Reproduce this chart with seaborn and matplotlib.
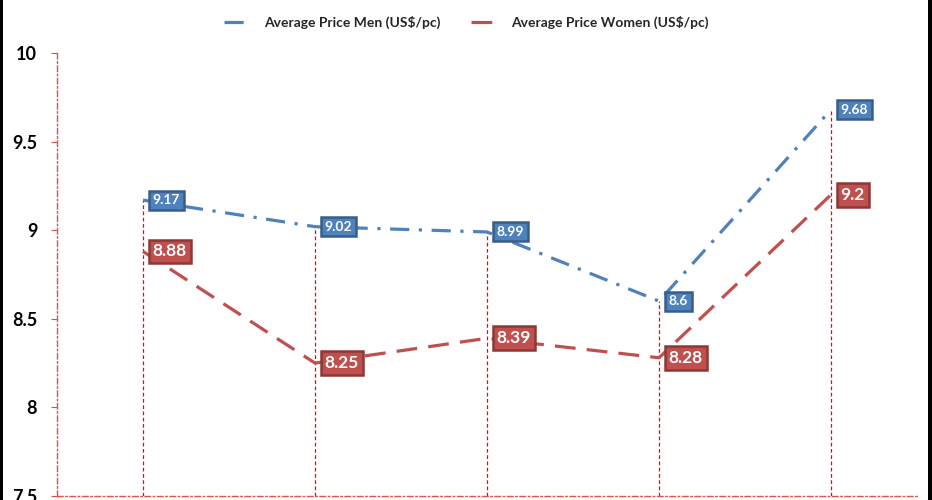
import numpy as np
import pandas as pd
import matplotlib
matplotlib.use("Agg")
import matplotlib.pyplot as plt
import seaborn as sns
from matplotlib.lines import Line2D
from matplotlib.patches import Rectangle

# data
positions = [0, 1, 2, 3, 4]
men_price = [9.17, 9.02, 8.99, 8.6, 9.68]
women_price = [8.88, 8.25, 8.39, 8.28, 9.2]
men_label = "Average Price Men (US$/pc)"
women_label = "Average Price Women (US$/pc)"
y_ticks = [7.5, 8, 8.5, 9, 9.5, 10]
y_tick_labels = ["7.5", "8", "8.5", "9", "9.5", "10"]

MEN_COLOR = "#4f81bd"
MEN_EDGE = "#385d8a"
WOMEN_COLOR = "#c0504d"
WOMEN_EDGE = "#8c3836"

sns.set_theme(style="white")
plt.rcParams['font.family'] = ['Lato', 'DejaVu Sans']

df = pd.DataFrame({
    "pos": positions * 2,
    "price": men_price + women_price,
    "series": [men_label] * len(positions) + [women_label] * len(positions),
})

fig = plt.figure(figsize=(9.32, 5), dpi=100)
ax = fig.add_axes([57 / 932, 4 / 500, 860 / 932, 443 / 500])

# drop lines from the higher point to the bottom
tops = np.maximum(men_price, women_price)
ax.vlines(positions, 7.5, tops, colors="#ff0000", linestyles=(0, (3, 2)), lw=0.9, zorder=1)

sns.lineplot(data=df, x="pos", y="price", hue="series", style="series",
             palette={men_label: MEN_COLOR, women_label: WOMEN_COLOR},
             dashes={men_label: (6, 3, 1, 3), women_label: (6.5, 3.5)},
             lw=2.3, legend=False, ax=ax, zorder=3)

# data labels
for x, v in zip(positions, men_price):
    ax.annotate(f"{v:g}", (x, v), xytext=(7, 0), textcoords="offset points",
                ha="left", va="center", color="white", fontsize=10, fontweight="bold",
                bbox=dict(boxstyle="square,pad=0.25", fc=MEN_COLOR, ec=MEN_EDGE, lw=1.8),
                zorder=5)
for x, v in zip(positions, women_price):
    ax.annotate(f"{v:g}", (x, v), xytext=(7, 0), textcoords="offset points",
                ha="left", va="center", color="white", fontsize=12.5, fontweight="bold",
                bbox=dict(boxstyle="square,pad=0.22", fc=WOMEN_COLOR, ec=WOMEN_EDGE, lw=1.8),
                zorder=5)

ax.set_xlim(-0.5, 4.5)
ax.set_ylim(7.5, 10)
ax.set_yticks(y_ticks)
ax.set_yticklabels(y_tick_labels, fontsize=13, fontweight="bold", color="black")
ax.set_xticks([])
ax.set_xlabel("")
ax.set_ylabel("")
ax.tick_params(axis="y", which="both", left=True, length=4.3, width=0.8,
               color="#d9534f", pad=10)

for side in ["top", "right"]:
    ax.spines[side].set_visible(False)
for side in ["left", "bottom"]:
    ax.spines[side].set_color("#d9534f")
    ax.spines[side].set_linewidth(1)
    ax.spines[side].set_linestyle((0, (4, 2, 1, 2)))

handles = [
    Line2D([0], [0], color=MEN_COLOR, lw=2.3, dashes=(6, 3, 1, 3)),
    Line2D([0], [0], color=WOMEN_COLOR, lw=2.3, dashes=(6.5, 3.5)),
]
fig.legend(handles, [men_label, women_label], loc="center", bbox_to_anchor=(0.5, 0.955),
           ncol=2, frameon=False, handlelength=1.8, handletextpad=1.1, columnspacing=2.2,
           prop={"size": 10, "weight": "bold"})

# black edges of the original screenshot
fig.patches.append(Rectangle((0, 0), 3 / 932, 1, transform=fig.transFigure,
                             fc="black", ec="none", zorder=10))
fig.patches.append(Rectangle((928 / 932, 0), 4 / 932, 1, transform=fig.transFigure,
                             fc="black", ec="none", zorder=10))

fig.savefig("out.png", dpi=100)
